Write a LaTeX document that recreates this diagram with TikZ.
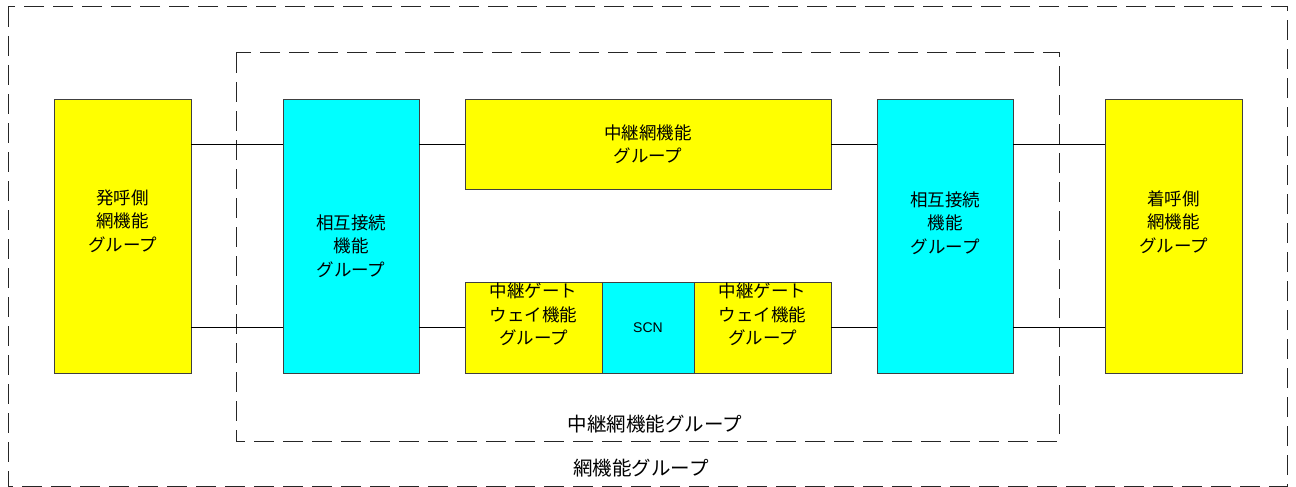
\documentclass[tikz,border=0pt]{standalone}
\usepackage{fontspec}
\setmainfont{Liberation Sans}
\newfontfamily\jp{Noto Sans CJK JP}
\usetikzlibrary{positioning}

\definecolor{fyellow}{RGB}{255,255,0}
\definecolor{fcyan}{RGB}{0,255,255}

\tikzset{
  grp/.style={draw=black!85,line width=1pt,dash pattern=on 20pt off 9pt},
  fbox/.style={draw=black!75,line width=0.8pt,inner sep=0pt,align=center,font=\jp\fontsize{17.5}{23.5}\selectfont},
  ybox/.style={fbox,fill=fyellow},
  cbox/.style={fbox,fill=fcyan},
  boxtxt/.style={fbox,draw=none,fill=none},
  link/.style={draw=black,line width=0.8pt},
  grplabel/.style={font=\jp\fontsize{19.5}{23}\selectfont}
}

\begin{document}
\begin{tikzpicture}[x=1pt,y=-1pt]

\useasboundingbox (0,0) rectangle (1296,487);

% groups
\draw[grp] (8,7) rectangle (1287,486);
\draw[grp] (236,53) rectangle (1059,441);
\node[grplabel] (netlbl) at (655,424) {中継網機能グループ};
\node[grplabel] (alllbl) at (641,468) {網機能グループ};

% boxes
\node[ybox,minimum width=137pt,minimum height=274pt] (orig) at (122.5,236) {};
\node[boxtxt] (origtxt) at ([yshift=15pt]orig.center) {発呼側\\網機能\\グループ};

\node[cbox,minimum width=136pt,minimum height=274pt] (ixl) at (351,236) {};
\node[boxtxt] (ixltxt) at ([yshift=-10pt]ixl.center) {相互接続\\機能\\グループ};

\node[ybox,minimum width=366pt,minimum height=90pt] (trunk) at (648,144) {中継網機能\\グループ};

\node[ybox,minimum width=137pt,minimum height=91pt] (gwl) at (533.5,327.5) {};
\node[boxtxt] (gwltxt) at ([yshift=13pt]gwl.center) {中継ゲート\\ウェイ機能\\グループ};
\node[cbox,minimum width=92pt,minimum height=91pt,font=\fontsize{14}{16}\selectfont] (scn) at (648,327.5) {SCN};
\node[ybox,minimum width=137pt,minimum height=91pt] (gwr) at (762.5,327.5) {};
\node[boxtxt] (gwrtxt) at ([yshift=13pt]gwr.center) {中継ゲート\\ウェイ機能\\グループ};

\node[cbox,minimum width=136pt,minimum height=274pt] (ixr) at (945,236) {};
\node[boxtxt] (ixrtxt) at ([yshift=13pt]ixr.center) {相互接続\\機能\\グループ};

\node[ybox,minimum width=137pt,minimum height=274pt] (term) at (1173.5,236) {};
\node[boxtxt] (termtxt) at ([yshift=14pt]term.center) {着呼側\\網機能\\グループ};

% links
\draw[link] (orig.east |- 0,144) -- (ixl.west |- 0,144);
\draw[link] (orig.east |- 0,327) -- (ixl.west |- 0,327);
\draw[link] (ixl.east |- trunk.west) -- (trunk.west);
\draw[link] (ixl.east |- gwl.west) -- (gwl.west);
\draw[link] (trunk.east) -- (ixr.west |- trunk.east);
\draw[link] (gwr.east) -- (ixr.west |- gwr.east);
\draw[link] (ixr.east |- 0,144) -- (term.west |- 0,144);
\draw[link] (ixr.east |- 0,327) -- (term.west |- 0,327);

\end{tikzpicture}
\end{document}
